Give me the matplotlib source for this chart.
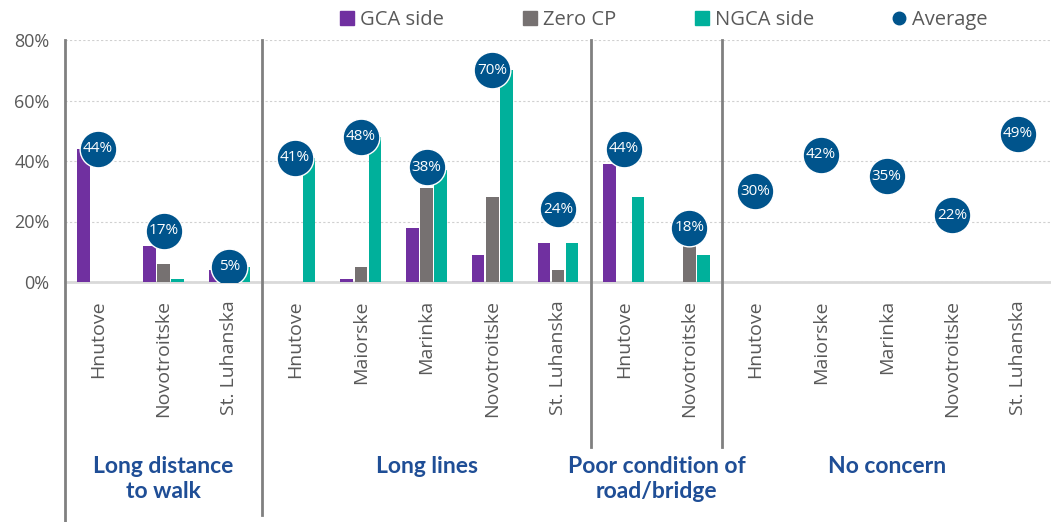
import numpy as np
import matplotlib
matplotlib.use("Agg")
import matplotlib.pyplot as plt
from matplotlib.lines import Line2D
from matplotlib.patches import Patch
import matplotlib.transforms as mtransforms

# data (percent)
sites = ["Hnutove", "Novotroitske", "St. Luhanska",
         "Hnutove", "Maiorske", "Marinka", "Novotroitske", "St. Luhanska",
         "Hnutove", "Novotroitske",
         "Hnutove", "Maiorske", "Marinka", "Novotroitske", "St. Luhanska"]
group_names = ["Long distance\nto walk", "Long lines",
               "Poor condition of\nroad/bridge", "No concern"]
group_sizes = [3, 5, 2, 5]

gca_side = [44, 12, 4, 0, 1, 18, 9, 13, 39, 0, 0, 0, 0, 0, 0]
zero_cp = [0, 6, 5, 0, 5, 31, 28, 4, 0, 12, 0, 0, 0, 0, 0]
ngca_side = [0, 1, 5, 41, 48, 37, 70, 13, 28, 9, 0, 0, 0, 0, 0]
average = [44, 17, 5, 41, 48, 38, 70, 24, 44, 18, 30, 42, 35, 22, 49]

C_GCA = "#7030A0"
C_ZERO = "#767171"
C_NGCA = "#00B09B"
C_AVG = "#00548C"
C_GROUP = "#1F4E96"
C_TEXT = "#595959"

plt.rcParams['font.family'] = ['Open Sans', 'DejaVu Sans']

fig = plt.figure(figsize=(10.51, 5.22), dpi=100)
ax = fig.add_axes([65 / 1051, 1 - 282 / 522, 986 / 1051, 242 / 522])

x = np.arange(len(sites))
w = 0.19
step = 0.215
ax.bar(x - step, np.array(gca_side) / 100, w, color=C_GCA, linewidth=0, zorder=3)
ax.bar(x, np.array(zero_cp) / 100, w, color=C_ZERO, linewidth=0, zorder=3)
ax.bar(x + step, np.array(ngca_side) / 100, w, color=C_NGCA, linewidth=0, zorder=3)

ax.scatter(x, np.array(average) / 100, s=700, color=C_AVG, edgecolor="white",
           linewidth=1, zorder=5)
for xi, v in zip(x, average):
    ax.text(xi, v / 100, f"{v}%", color="white", ha="center", va="center",
            fontsize=11, zorder=6)

ax.set_xlim(-0.5, len(sites) - 0.5)
ax.set_ylim(0, 0.8)
ax.set_yticks([0, 0.2, 0.4, 0.6, 0.8])
ax.set_yticklabels(["0%", "20%", "40%", "60%", "80%"], color=C_TEXT, fontsize=13)
ax.tick_params(axis="y", length=0, pad=11)
ax.yaxis.grid(True, color="#d0d0d0", linestyle=(0, (2, 2)), linewidth=0.8, zorder=0)

ax.set_xticks(x)
ax.set_xticklabels(sites, rotation=90, va="top", ha="center", color=C_TEXT, fontsize=14)
ax.tick_params(axis="x", length=0, pad=13)

for s in ["top", "right", "left"]:
    ax.spines[s].set_visible(False)
ax.spines["bottom"].set_color("#d9d9d9")
ax.spines["bottom"].set_linewidth(2)

trans = mtransforms.blended_transform_factory(ax.transData, ax.transAxes)
# left axis line and group separators
ax.plot([-0.5, -0.5], [1, -0.995], color="#808080", lw=2, transform=trans, clip_on=False, zorder=4)
edges = np.cumsum(group_sizes)[:-1] - 0.5
for i, e in enumerate(edges):
    bottom = -0.962 if i == 0 else -0.682
    ax.plot([e, e], [1, bottom], color="#808080", lw=2, transform=trans,
            clip_on=False, zorder=4)

starts = np.concatenate([[0], np.cumsum(group_sizes)[:-1]])
for name, st, n in zip(group_names, starts, group_sizes):
    ax.text(st + (n - 1) / 2, -0.72, name, transform=trans, ha="center", va="top",
            color=C_GROUP, fontsize=16.5, fontweight="bold", linespacing=1.25,
            family=["Lato", "DejaVu Sans"])

handles = [Patch(color=C_GCA, label="GCA side"),
           Patch(color=C_ZERO, label="Zero CP"),
           Patch(color=C_NGCA, label="NGCA side"),
           Line2D([], [], marker="o", linestyle="", color=C_AVG, markersize=9, label="Average")]
fig.legend(handles=handles, loc="center", bbox_to_anchor=(664 / 1051, 1 - 20 / 522),
           ncol=4, frameon=False, fontsize=14.5, labelcolor=C_TEXT,
           handlelength=0.7, handleheight=0.7, handletextpad=0.3, columnspacing=3.9)

fig.savefig("out.png", dpi=100)
